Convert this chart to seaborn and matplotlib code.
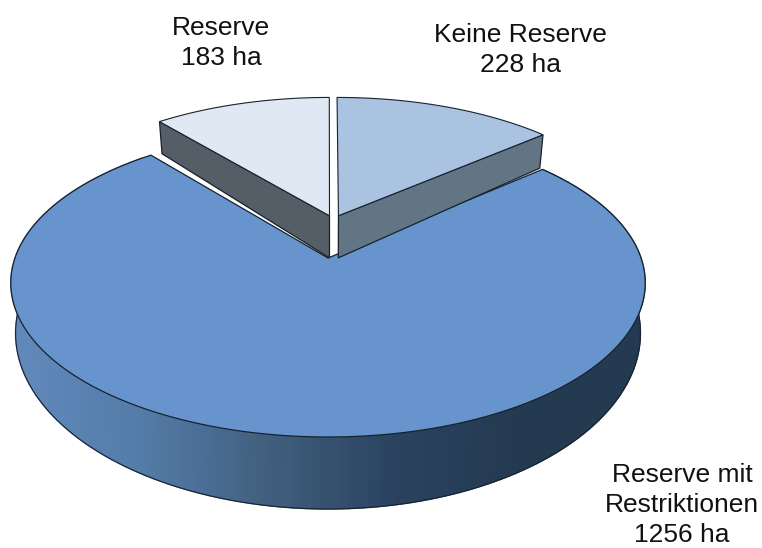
import numpy as np
import matplotlib
matplotlib.use("Agg")
import matplotlib.pyplot as plt
import seaborn as sns

# Area per category, in hectares
categories = ["Keine Reserve", "Reserve mit\nRestriktionen", "Reserve"]
areas_ha = [228, 1256, 183]

top_colors = ["#a9c3e1", "#6794cc", "#e0e8f3"]
side_colors = ["#627584", None, "#555d66"]
wall_stops = ["#6189bb", "#547ca8", "#41607f", "#2a4360", "#243a50", "#243a50"]

sns.set_theme(style="white")
plt.rcParams["font.family"] = ["Liberation Sans", "DejaVu Sans"]

fig, ax = plt.subplots(figsize=(7.62, 5.48), dpi=100)
fig.subplots_adjust(0, 0, 1, 1)
ax.set_xlim(0, 762)
ax.set_ylim(548, 0)
ax.axis("off")

# Perspective view of the pie plane: unit disc to screen pixels
APEX = (328.0, 258.0)
TILT, SCALE_X, SCALE_Y = 0.162, 313.0, 150.0
DEPTH, DEPTH_POWER = 72.0, 2.4
OUTLINE = "#17222e"


def project(px, py):
    w = 1 + TILT * py
    return APEX[0] + SCALE_X * px / w, APEX[1] - SCALE_Y * py / w


def lower(px, py):
    # Same plane points on the underside of the slab
    x, y = project(px, py)
    w = 1 + TILT * py
    d = DEPTH * ((1 - TILT) / w) ** DEPTH_POWER
    return APEX[0] + (x - APEX[0]) * 0.985, y + d


def arc(start, stop, n, dx=0.0, dy=0.0):
    a = np.radians(np.linspace(start, stop, n))
    return np.sin(a) + dx, np.cos(a) + dy


fractions = np.array(areas_ha) / np.sum(areas_ha)
edges = np.concatenate([[0], np.cumsum(fractions) * 360])

# Large slice: outer wall in fine shaded bands, then its top face
m_start, m_stop = edges[1], edges[2]
px, py = arc(m_start, m_stop, 1441)
xt, yt = project(px, py)
xb, yb = lower(px, py)
shades = sns.blend_palette(wall_stops, n_colors=256)
x_lo, x_hi = xt.min(), xt.max()
BANDS = 90
band = np.clip(np.floor((xt - x_lo) / (x_hi - x_lo) * BANDS), 0, BANDS - 1).astype(int)
# Only the front part of the rim is visible
front = np.where(py < 0.75)[0]
for b in range(BANDS):
    ids = front[band[front] == b]
    if ids.size == 0:
        continue
    # Each band holds connected runs along the front of the rim
    breaks = np.where(np.diff(ids) > 1)[0] + 1
    for run in np.split(ids, breaks):
        run = np.r_[run, min(run[-1] + 1, len(xt) - 1)]
        c = shades[int(b / (BANDS - 1) * 255)]
        ax.fill(np.r_[xt[run], xb[run][::-1]], np.r_[yt[run], yb[run][::-1]],
                facecolor=c, edgecolor=c, lw=1.0, zorder=1)
ax.plot(xb[front], yb[front], color=OUTLINE, lw=0.8, zorder=2)
ax.fill(np.r_[APEX[0], xt], np.r_[APEX[1], yt], facecolor=top_colors[1],
        edgecolor=OUTLINE, lw=0.9, zorder=3)

# Two exploded slices pulled towards the back of the pie
offsets = {0: (0.035, 0.295), 2: (0.005, 0.295)}
for idx, (dx, dy) in offsets.items():
    start, stop = edges[idx], edges[idx + 1]
    px, py = arc(start, stop, 60, dx, dy)
    # The cut face on the viewer side runs from the apex to the outer corner
    side_corner = (px[-1], py[-1]) if idx == 0 else (px[0], py[0])
    t0 = project(dx, dy)
    t1 = project(*side_corner)
    b1 = lower(*side_corner)
    b0 = lower(dx, dy)
    ax.fill([t0[0], t1[0], b1[0], b0[0]], [t0[1], t1[1], b1[1], b0[1]],
            facecolor=side_colors[idx], edgecolor=OUTLINE, lw=0.9, zorder=4)
    xs, ys = project(px, py)
    ax.fill(np.r_[t0[0], xs], np.r_[t0[1], ys], facecolor=top_colors[idx],
            edgecolor=OUTLINE, lw=0.8, zorder=5)

# Labels with the area of each slice
label_spots = {0: (520, 50), 1: (682, 505), 2: (221, 43)}
for idx, (lx, ly) in label_spots.items():
    ax.text(lx, ly, f"{categories[idx]}\n{areas_ha[idx]} ha", ha="center", va="center",
            fontsize=19, color="#111111", linespacing=1.3, zorder=6)

fig.savefig("out.png", dpi=100)
